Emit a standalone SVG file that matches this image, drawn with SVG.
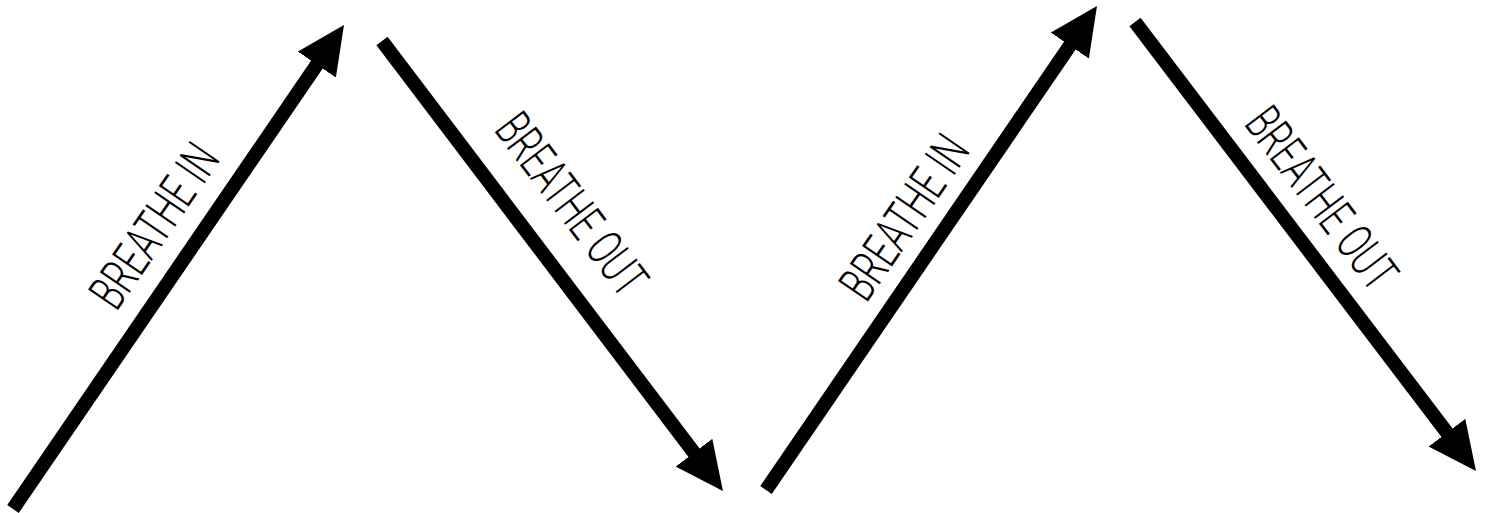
<svg xmlns="http://www.w3.org/2000/svg" width="1486" height="513" viewBox="0 0 1486 513">
<style>
.arrow{fill:none;stroke:#000;stroke-width:14;stroke-linecap:butt;marker-end:url(#head)}
.lbl{font-family:Roboto,"Liberation Sans",sans-serif;font-weight:300;font-size:51px;fill:#000;text-anchor:middle}
</style>
<defs>
<marker id="head" markerUnits="userSpaceOnUse" markerWidth="48" markerHeight="46" viewBox="0 0 48 46" refX="8" refY="23" orient="auto">
<path d="M0,0 L48,23 L0,46 z" fill="#000"/>
</marker>
</defs>
<rect width="1486" height="513" fill="#fff"/>
<g id="connectors">
<path class="arrow" d="M13,509 L321.4,58"/>
<path class="arrow" d="M382,41 L698.8,459.1"/>
<path class="arrow" d="M766,490 L1074.4,39"/>
<path class="arrow" d="M1135,22 L1451.8,439.1"/>
</g>
<g id="label-in-1"><text class="lbl" transform="translate(154,225.5) rotate(-55.6)" x="0" y="18" textLength="186" lengthAdjust="spacingAndGlyphs">BREATHE IN</text></g>
<g id="label-out-1"><text class="lbl" transform="translate(572,204) rotate(52.8)" x="0" y="18" textLength="214" lengthAdjust="spacingAndGlyphs">BREATHE OUT</text></g>
<g id="label-in-2"><text class="lbl" transform="translate(904,217) rotate(-55.6)" x="0" y="18" textLength="186" lengthAdjust="spacingAndGlyphs">BREATHE IN</text></g>
<g id="label-out-2"><text class="lbl" transform="translate(1322,198) rotate(52.8)" x="0" y="18" textLength="214" lengthAdjust="spacingAndGlyphs">BREATHE OUT</text></g>
</svg>
